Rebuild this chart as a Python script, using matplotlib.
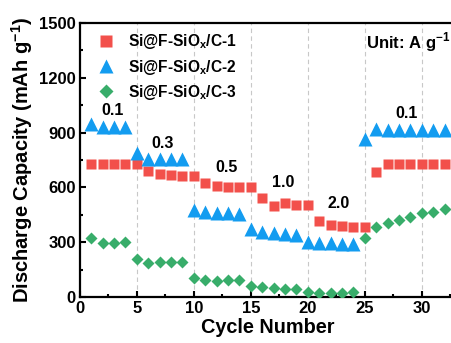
import matplotlib
matplotlib.use('Agg')
import matplotlib.pyplot as plt
from matplotlib.ticker import MultipleLocator

plt.rcParams['font.family'] = 'Liberation Sans'
plt.rcParams['font.weight'] = 'bold'
plt.rcParams['mathtext.fontset'] = 'custom'
plt.rcParams['mathtext.rm'] = 'Liberation Sans:bold'
plt.rcParams['mathtext.bf'] = 'Liberation Sans:bold'

# cycle data
cycles = list(range(1, 33))
cap_1 = [730, 730, 730, 730, 728, 692, 673, 667, 665, 662,
         625, 609, 605, 604, 600, 540, 498, 512, 503, 503,
         417, 397, 390, 385, 381, 684, 729, 729, 729, 729, 729, 729]
cap_2 = [948, 932, 932, 932, 786, 753, 753, 753, 753, 476,
         467, 461, 458, 452, 374, 357, 350, 344, 339, 302,
         294, 294, 291, 289, 866, 918, 916, 916, 916, 916, 916, 916]
cap_3 = [325, 298, 298, 300, 206, 189, 190, 190, 190, 102,
         93, 87, 93, 93, 60, 56, 47, 43, 42, 29,
         24, 24, 24, 29, 321, 381, 407, 421, 436, 458, 463, 483]
labels = ['Si@F-SiO$_\\mathbf{x}$/C-1', 'Si@F-SiO$_\\mathbf{x}$/C-2', 'Si@F-SiO$_\\mathbf{x}$/C-3']

# current density labels
rate_text = ['0.1', '0.3', '0.5', '1.0', '2.0', '0.1']
rate_x = [2.9, 7.3, 12.9, 17.8, 22.7, 28.7]
rate_y = [1020, 840, 710, 625, 510, 1005]

fig = plt.figure(figsize=(4.51, 3.43), dpi=100)
ax = fig.add_axes([0.177, 0.134, 0.834, 0.799])

for xv in range(5, 31, 5):
    ax.axvline(xv, color='#c8c8c8', ls=(0, (4, 3)), lw=0.8, zorder=0)

ax.plot(cycles, cap_1, 's', color='#f2504b', ms=7.2, mec='none', label=labels[0], zorder=3)
ax.plot(cycles, cap_2, '^', color='#139cf0', ms=9.5, mec='none', label=labels[1], zorder=3)
ax.plot(cycles, cap_3, 'D', color='#38ad6a', ms=6.6, mec='none', label=labels[2], zorder=3)

for t, xv, yv in zip(rate_text, rate_x, rate_y):
    ax.text(xv, yv, t, fontsize=11.5, fontweight='bold', ha='center', va='center')

ax.text(32.55, 1395, 'Unit: A g$^{-1}$', fontsize=12, fontweight='bold', ha='right', va='center')

ax.set_xlim(0, 33)
ax.set_ylim(0, 1500)
ax.xaxis.set_major_locator(MultipleLocator(5))
ax.xaxis.set_minor_locator(MultipleLocator(2.5))
ax.yaxis.set_major_locator(MultipleLocator(300))
ax.yaxis.set_minor_locator(MultipleLocator(150))
ax.tick_params(which='both', direction='in', width=1.5, labelsize=12, pad=3)
ax.tick_params(which='major', length=4)
ax.tick_params(which='minor', length=2.5)
for lab in ax.get_xticklabels() + ax.get_yticklabels():
    lab.set_fontweight('bold')
for sp in ax.spines.values():
    sp.set_linewidth(1.6)

ax.set_xlabel('Cycle Number', fontsize=14.3, fontweight='bold', labelpad=1)
ax.set_ylabel('Discharge Capacity (mAh g$^{-1}$)', fontsize=14.5, fontweight='bold', labelpad=3)

ax.legend(loc='upper left', frameon=False, fontsize=11.2, handletextpad=0.8,
          labelspacing=0.4, borderaxespad=0.2, handlelength=1.2, markerscale=1.1,
          bbox_to_anchor=(0.02, 1.0))

fig.savefig('out.png', dpi=100)
